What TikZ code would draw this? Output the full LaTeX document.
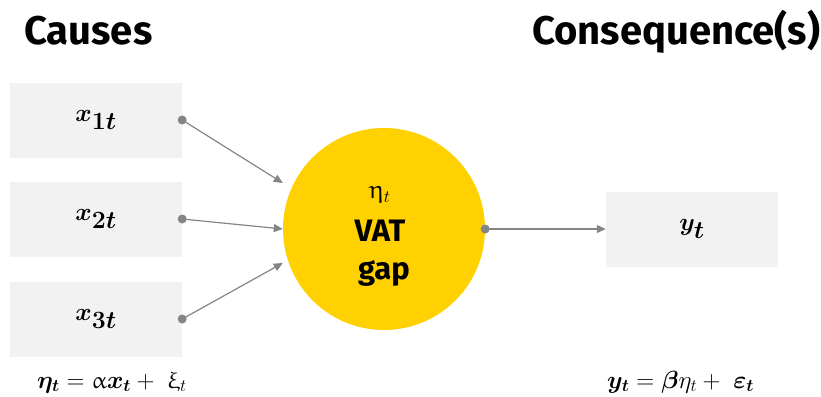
\documentclass[tikz,border=0pt]{standalone}
\usepackage{fontspec}
\usepackage{amsmath}
\usepackage{bm}
\usepackage{upgreek}
\usetikzlibrary{positioning,arrows.meta,calc}
\newfontfamily\titleFont{Fira Sans}
\definecolor{boxGray}{HTML}{F2F2F2}
\definecolor{gapYellow}{HTML}{FFD100}
\definecolor{linkGray}{HTML}{858585}

\tikzset{
    causeBox/.style={fill=boxGray, minimum width=172pt, minimum height=75pt, inner sep=0pt, font=\fontsize{36}{40}\selectfont},
    gapCircle/.style={circle, fill=gapYellow, minimum size=202pt, inner sep=0pt},
    linkArrow/.style={draw=linkGray, line width=1.2pt, -{Triangle[length=9pt,width=8pt]}},
    linkDot/.style={fill=linkGray},
    headLabel/.style={anchor=base west, inner sep=0pt, font=\titleFont\bfseries\fontsize{40}{44}\selectfont},
    eqLabel/.style={anchor=base west, inner sep=0pt, font=\fontsize{23.5}{28}\selectfont}
}

\begin{document}
\begin{tikzpicture}[x=1pt, y=-1pt]
    \useasboundingbox (0,0) rectangle (821,396);

    % HEADINGS
    \node[headLabel] (causes) at (24,45) {Causes};
    \node[headLabel] (conseq) at (532,45) {Consequence(s)};

    % CAUSES
    \node[causeBox] (x1) at (96,120) {$\bm{x_{1t}}$};
    \node[causeBox] (x2) at (96,219) {$\bm{x_{2t}}$};
    \node[causeBox] (x3) at (96,319) {$\bm{x_{3t}}$};

    % LATENT VARIABLE
    \node[gapCircle] (gap) at (384,229) {};
    \node (eta) at (380,195) {\fontsize{26}{30}\selectfont$\upeta_{t}$};
    \node[font=\titleFont\bfseries\fontsize{31}{36}\selectfont] (vat) at (380,231) {VAT};
    \node[font=\titleFont\bfseries\fontsize{31}{36}\selectfont, anchor=base] (gaptext) at (384,279) {gap};

    % CONSEQUENCE
    \node[causeBox] (y) at (692,229) {$\bm{y_{t}}$};

    % ARROW ENDS (all at the left side of the circle)
    \coordinate (in1) at ($(gap.west)+(0,-46)$);
    \coordinate (in2) at ($(gap.west)+(0,0)$);
    \coordinate (in3) at ($(gap.west)+(0,34)$);

    \foreach \i in {1,2,3}{
        \draw[linkArrow] (x\i.east) -- (in\i);
        \fill[linkDot] (x\i.east) circle (4.5pt);
    }
    \draw[linkArrow] (gap.east) -- (y.west);
    \fill[linkDot] (gap.east) circle (4.5pt);

    % EQUATIONS
    \node[eqLabel] (eqcause) at (37,388) {$\bm{\eta_t} = \upalpha\bm{x_t} +\ \upxi_t$};
    \node[eqLabel] (eqconseq) at (607,388) {$\bm{y_t} = \bm{\beta}\eta_t +\ \bm{\varepsilon_t}$};
\end{tikzpicture}
\end{document}
